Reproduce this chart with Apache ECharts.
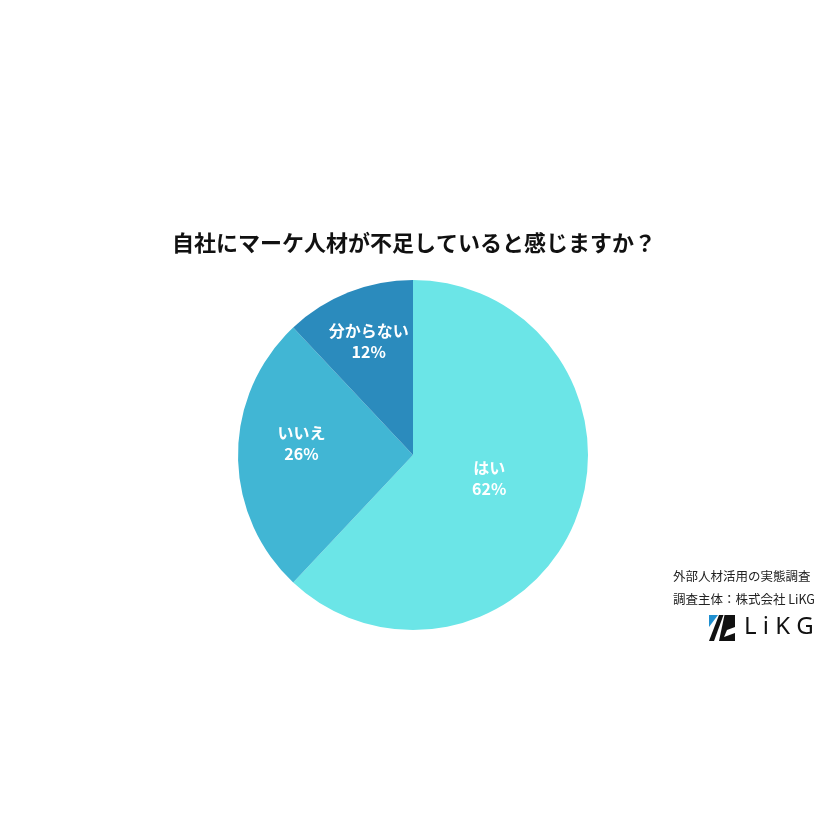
<!DOCTYPE html>
<html>
<head>
<meta charset="utf-8">
<script src="https://cdn.jsdelivr.net/npm/echarts@6/dist/echarts.min.js"></script>
<style>html,body{margin:0;padding:0;background:#fff;}#c{width:828px;height:828px;}</style>
</head>
<body>
<div id="c"></div>
<script>
const categories = ['はい', 'いいえ', '分からない'];
const values = [62, 26, 12];
const titleText = '自社にマーケ人材が不足していると感じますか？';
const sourceLines = ['外部人材活用の実態調査', '調査主体：株式会社 LiKG'];

const colors = ['#6be5e7', '#41b6d4', '#2b8bbd'];
const labelShift = [[-8, -10], [-21, -12], [-11, -29]];
const FONT = '"Noto Sans CJK JP", "Noto Sans", sans-serif';

const chart = echarts.init(document.getElementById('c'), null, {renderer: 'canvas'});
chart.setOption({
  backgroundColor: '#ffffff',
  animation: false,
  title: {
    text: titleText,
    left: 'center',
    top: 227,
    textStyle: {fontFamily: FONT, fontSize: 22, fontWeight: 'bold', color: '#111111'}
  },
  series: [{
    type: 'pie',
    center: [413, 455],
    radius: 175,
    startAngle: 90,
    clockwise: true,
    avoidLabelOverlap: false,
    data: categories.map((c, i) => ({name: c, value: values[i], itemStyle: {color: colors[i]}})),
    itemStyle: {borderWidth: 0},
    label: {
      show: true,
      position: 'inside',
      formatter: p => p.name + '\n' + p.value + '%',
      fontFamily: FONT,
      fontSize: 16,
      fontWeight: 'bold',
      color: '#ffffff',
      lineHeight: 21,
      align: 'center'
    },
    labelLine: {show: false},
    labelLayout: p => ({dx: labelShift[p.dataIndex][0], dy: labelShift[p.dataIndex][1]}),
    emphasis: {disabled: true}
  }],
  graphic: [
    {type: 'text', left: 673, top: 570, style: {text: sourceLines[0], font: '12.5px ' + FONT, fill: '#222'}},
    {type: 'text', left: 673, top: 593, style: {text: sourceLines[1], font: '12.5px ' + FONT, fill: '#222'}},
    {type: 'polygon', shape: {points: [[709, 615], [718, 615], [709, 627]]}, style: {fill: '#1f8fd0'}},
    {type: 'polygon', shape: {points: [[719, 615], [723.5, 615], [714, 641], [709, 641]]}, style: {fill: '#111'}},
    {type: 'polygon', shape: {points: [[724.5, 615], [735, 615], [735, 641], [719, 641]]}, style: {fill: '#111'}},
    {type: 'polygon', shape: {points: [[735, 627], [735, 633], [724, 637], [727, 630]]}, style: {fill: '#fff'}},
    {type: 'text', left: 744, top: 615, style: {text: 'L i K G', font: '400 24px "Noto Sans", "DejaVu Sans", sans-serif', fill: '#111'}}
  ]
});
</script>
</body>
</html>
